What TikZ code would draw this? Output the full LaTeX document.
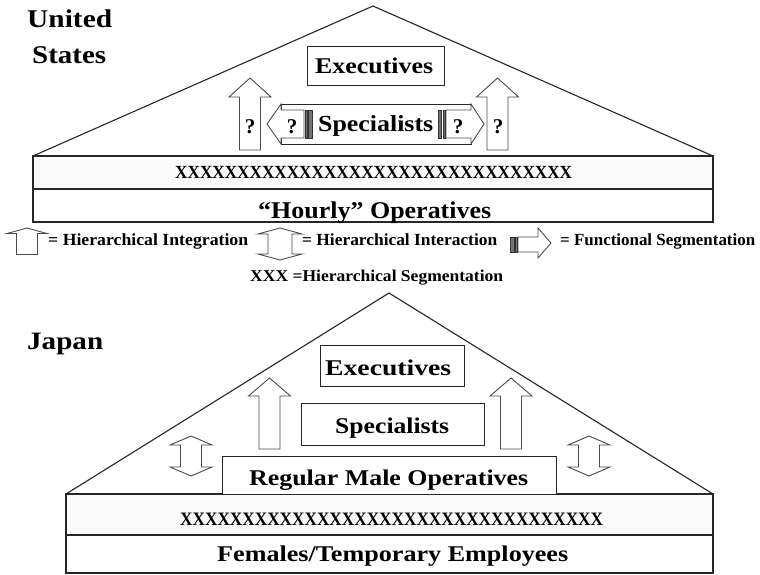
\documentclass[tikz,border=0pt]{standalone}
\usepackage{fontspec}
\setmainfont{Liberation Serif}
\tikzset{
  txt/.style={inner sep=0pt, anchor=base west},
  ctxt/.style={inner sep=0pt, anchor=base},
  fs/.style={font=\bfseries\fontsize{#1}{#1}\selectfont},
  ln/.style={line width=1.1pt, draw=black!85},
  arr/.style={line width=0.9pt, draw=black!70, fill=white},
  boxs/.style={line width=1pt, draw=black!85, fill=white},
  stripe/.style={line width=0.5pt, draw=black!80, fill=black!55},
}
\newcommand\fw[2]{\resizebox{#1}{\height}{#2}}
% up arrow: cx, tip, wing, bottom, shaft half, wing half
\newcommand\uarrow[6]{%
  \draw[arr] ({#1-#5},#4) -- ({#1-#5},#3) -- ({#1-#6},#3) -- (#1,#2) -- ({#1+#6},#3) -- ({#1+#5},#3) -- ({#1+#5},#4) -- cycle;}
% double arrow: cx, toptip, topwing, botwing, bottip, shaft half, wing half
\newcommand\darrow[7]{%
  \draw[arr] (#1,#2) -- ({#1+#7},#3) -- ({#1+#6},#3) -- ({#1+#6},#4) -- ({#1+#7},#4) -- (#1,#5) -- ({#1-#7},#4) -- ({#1-#6},#4) -- ({#1-#6},#3) -- ({#1-#7},#3) -- cycle;}
\begin{document}
\begin{tikzpicture}[x=1pt,y=-1pt]
\useasboundingbox[fill=white] (0,0) rectangle (760,574);

% ================= United States =================
\node[txt, fs=25.5] (lblus1) at (27,27) {\fw{85pt}{United}};
\node[txt, fs=25.5] (lblus2) at (32,63) {\fw{74pt}{States}};

\draw[ln] (33,156) -- (373,6) -- (713,156);
\draw[ln, fill=gray!4] (33,156) rectangle (713,189);
\draw[ln] (33,189) rectangle (713,222);

\node[txt, fs=18.5] (usxxx) at (175,178.5) {\fw{397pt}{XXXXXXXXXXXXXXXXXXXXXXXXXXXXXXXX}};
\node[txt, fs=24] (ushourly) at (258,218) {\fw{233pt}{“Hourly” Operatives}};

% executives box
\draw[boxs] (307,46) rectangle (444,85);
\node[txt, fs=22.5] (usexec) at (315,73.3) {\fw{118pt}{Executives}};

% up arrows
\uarrow{250}{78}{97}{150}{10.5}{21}
\uarrow{497.5}{78}{97}{150}{10.5}{21}
\node[ctxt, fs=21] (usq1) at (250,133) {?};
\node[ctxt, fs=21] (usq4) at (498,133) {?};

% specialists box with striped arrows
\draw[boxs] (281,104) rectangle (471,144);
\draw[arr] (304,110) -- (281,110) -- (281,104) -- (267,124) -- (281,144) -- (281,138) -- (304,138) -- cycle;
\draw[stripe] (305,110) rectangle (307,138);
\draw[stripe] (308.5,110) rectangle (312,138);
\draw[arr] (446,110) -- (471,110) -- (471,104) -- (484,124) -- (471,144) -- (471,138) -- (446,138) -- cycle;
\draw[stripe] (438,110) rectangle (441.5,138);
\draw[stripe] (443,110) rectangle (445,138);
\node[ctxt, fs=21] (usq2) at (292,133) {?};
\node[ctxt, fs=21] (usq3) at (458,133) {?};
\node[txt, fs=23] (usspec) at (318,131) {\fw{115pt}{Specialists}};

% ================= Legend =================
\uarrow{27}{228}{233.5}{254.5}{10.5}{20}
\node[txt, fs=17] (leg1) at (48,245.5) {\fw{200pt}{= Hierarchical Integration}};
\darrow{280}{228}{234}{254}{260}{12}{22}
\node[txt, fs=17] (leg2) at (302,245.5) {\fw{195pt}{= Hierarchical Interaction}};
\draw[stripe] (510,237) rectangle (514,252);
\draw[stripe] (515.5,237) rectangle (517,252);
\draw[arr] (518,237) -- (538,237) -- (538,228) -- (551,243) -- (538,258) -- (538,252) -- (518,252) -- cycle;
\node[txt, fs=17] (leg3) at (560,245.5) {\fw{195pt}{= Functional Segmentation}};
\node[txt, fs=16.5] (leg4) at (250,281) {\fw{253pt}{XXX =Hierarchical Segmentation}};

% ================= Japan =================
\node[txt, fs=25] (lbljp) at (27,349) {\fw{76pt}{Japan}};

\draw[ln] (66,494) -- (389,293) -- (713,494);
\draw[ln, fill=gray!4] (66,494) rectangle (713,535);
\draw[ln] (66,535) rectangle (713,573);
\draw[line width=2pt, black!85] (66,535) -- (713,535);

\node[txt, fs=19] (jpxxx) at (180,525) {\fw{423pt}{XXXXXXXXXXXXXXXXXXXXXXXXXXXXXXXXXX}};
\node[txt, fs=22.5] (jpfem) at (217,561.5) {\fw{351pt}{Females/Temporary Employees}};

\draw[boxs] (320,345) rectangle (464,386);
\node[txt, fs=22.5] (jpexec) at (325,375) {\fw{126pt}{Executives}};
\draw[boxs] (301,403) rectangle (484,445);
\node[txt, fs=22.5] (jpspec) at (335,433) {\fw{114pt}{Specialists}};
\draw[boxs] (222,456) rectangle (556,494);
\node[txt, fs=22.5] (jpreg) at (249,485) {\fw{279pt}{Regular Male Operatives}};

\uarrow{269.5}{378}{396}{449}{10.5}{21}
\uarrow{511}{378}{396}{449}{10.5}{21}
\darrow{191}{436}{445}{467}{476}{10.5}{21}
\darrow{589}{436}{445}{467}{476}{10.5}{21}
\end{tikzpicture}
\end{document}
